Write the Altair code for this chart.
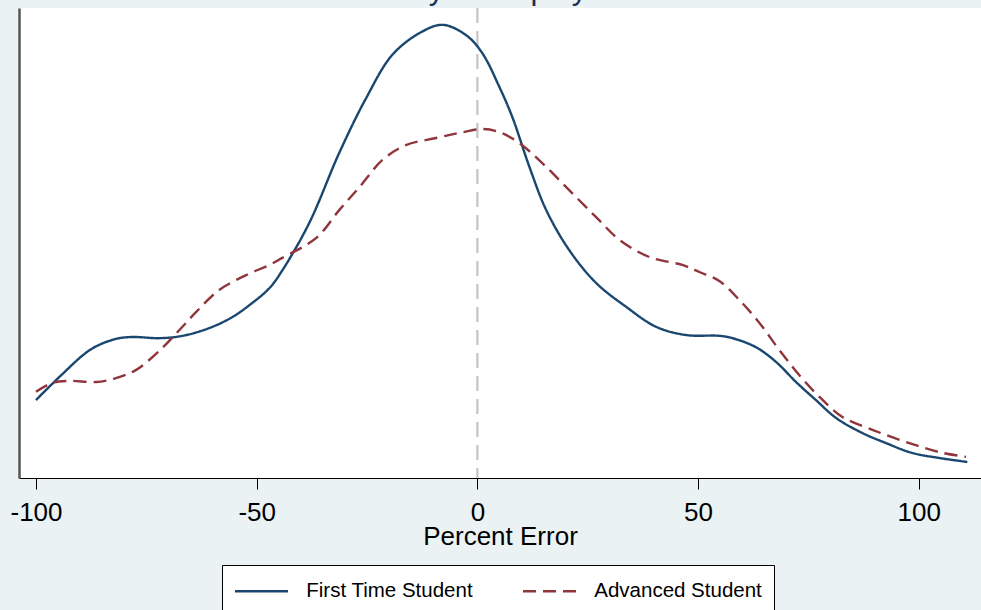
import altair as alt
import pandas as pd

# First Time Student kernel density (x = percent error, y = density)
first_x = [-100, -94.7, -87.5, -81.9, -78.2, -72.0, -66.8, -60.7, -55.5, -51.0, -47.1, -44.2,
           -38.1, -31.3, -25.2, -19.3, -13.1, -7.9, -2.6, 1.1, 5.0, 7.9, 11.8, 15.6, 20.8,
           26.9, 33.7, 40.5, 47.3, 54.8, 57.8, 63.1, 67.7, 72.2, 76.7, 81.3, 87.2, 92.6,
           98.5, 104.7, 111.0]
first_y = [0.00199, 0.00258, 0.00329, 0.00355, 0.00360, 0.00357, 0.00363, 0.00383, 0.00411,
           0.00447, 0.00485, 0.00530, 0.00651, 0.00830, 0.00970, 0.01080, 0.01136, 0.01157,
           0.01131, 0.01085, 0.00998, 0.00922, 0.00794, 0.00684, 0.00582, 0.00498, 0.00437,
           0.00386, 0.00365, 0.00363, 0.00357, 0.00334, 0.00296, 0.00245, 0.00199, 0.00153,
           0.00115, 0.00089, 0.00064, 0.00051, 0.00041]

# Advanced Student kernel density
adv_x = [-100, -96.3, -92.4, -86.4, -81.9, -77.3, -71.4, -67.5, -63.7, -58.5, -52.4, -47.1,
         -44.2, -36.5, -31.3, -26.7, -21.5, -16.2, -9.4, -4.1, 1.1, 5.0, 9.5, 14.7, 20.8,
         26.9, 32.2, 39.0, 46.4, 50.3, 54.8, 59.4, 63.9, 68.4, 72.9, 77.5, 82.7, 89.5,
         97.1, 104.7, 110.7]
adv_y = [0.00220, 0.00243, 0.00248, 0.00245, 0.00255, 0.00276, 0.00332, 0.00378, 0.00424,
         0.00480, 0.00518, 0.00544, 0.00562, 0.00613, 0.00684, 0.00743, 0.00812, 0.00850,
         0.00868, 0.00881, 0.00891, 0.00883, 0.00855, 0.00804, 0.00735, 0.00666, 0.00608,
         0.00564, 0.00544, 0.00526, 0.00503, 0.00454, 0.00396, 0.00327, 0.00263, 0.00207,
         0.00156, 0.00123, 0.00092, 0.00066, 0.00054]

groups = ["First Time Student", "Advanced Student"]
x_ticks = [-100, -50, 0, 50, 100]
title_text = "Accuracy in Display"

rows = []
for xv, yv in zip(first_x, first_y):
    rows.append({"err": xv, "dens": yv, "Group": groups[0]})
for xv, yv in zip(adv_x, adv_y):
    rows.append({"err": xv, "dens": yv, "Group": groups[1]})
df = pd.DataFrame(rows)

xscale = alt.Scale(domain=[-103.85, 114.1], nice=False, zero=False)
yscale = alt.Scale(domain=[0, 0.012], nice=False, zero=False)

lines = alt.Chart(df).mark_line(strokeWidth=2.4, interpolate="catmull-rom", clip=True).encode(
    x=alt.X("err:Q", scale=xscale, title="Percent Error",
            axis=alt.Axis(values=x_ticks, grid=False, domainColor="#000000", domainWidth=1,
                          tickColor="#000000", tickSize=11, tickWidth=1,
                          labelFontSize=26, labelColor="#000000", labelPadding=10,
                          labelExpr="datum.value + ''",
                          labelFont="Liberation Sans", titleFont="Liberation Sans",
                          titleFontSize=26, titleFontWeight="normal", titleColor="#000000",
                          titlePadding=-2, labelFlush=False)),
    y=alt.Y("dens:Q", scale=yscale, title=None,
            axis=alt.Axis(labels=False, ticks=False, grid=False, domainColor="#555555",
                          domainWidth=2.5, title=None)),
    color=alt.Color("Group:N", scale=alt.Scale(domain=groups, range=["#1a476f", "#90353b"]),
                    legend=alt.Legend(orient="none", legendX=203, legendY=557,
                                      direction="horizontal", columns=2, title=None,
                                      symbolType="M-1,0L3,0", symbolSize=702,
                                      symbolStrokeWidth=2.4, labelFontSize=20.5,
                                      labelFont="Liberation Sans", labelColor="#000000",
                                      labelOffset=43.5, columnPadding=44, padding=11.75,
                                      fillColor="#ffffff", strokeColor="#000000",
                                      labelLimit=400)),
    strokeDash=alt.StrokeDash("Group:N", scale=alt.Scale(domain=groups, range=[[1, 0], [13, 7]]),
                              legend=None),
)

refline = alt.Chart(pd.DataFrame({"err": [0]})).mark_rule(
    color="#c4c4c4", strokeWidth=2.2, strokeDash=[15, 8]).encode(
    x=alt.X("err:Q", scale=xscale))

title_layer = alt.Chart(pd.DataFrame({"t": [title_text]})).mark_text(
    font="Liberation Sans", fontSize=31, color="#1a2e5a", align="center",
    baseline="alphabetic").encode(
    text="t:N", x=alt.value(433), y=alt.value(-9))

chart = alt.layer(refline, lines, title_layer).properties(
    width=962, height=470,
    autosize=alt.AutoSizeParams(type="none"),
    padding={"left": 19, "top": 8, "right": 0, "bottom": 132},
    background="#eaf2f3",
).configure_view(fill="#ffffff", stroke=None)

chart.save("out.html", embed_options={"renderer": "svg", "actions": False})
